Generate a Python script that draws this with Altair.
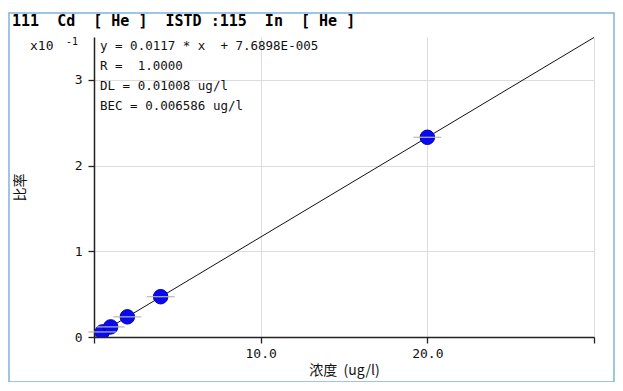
import altair as alt
import pandas as pd

# --- data ---
conc = [0.5, 1.0, 2.0, 4.0, 20.0]            # 浓度 (ug/l)
ratio = [0.059, 0.118, 0.235, 0.47, 2.33]     # 比率 (x10^-1)
x_ticks = [0, 10, 20, 30]
y_ticks = [0, 1, 2, 3]
NB = "\u00a0"
title_text = "111  Cd  [ He ]  ISTD :115  In  [ He ]".replace(" ", NB)
info_lines = [s.replace(" ", NB) for s in [
    "y = 0.0117 * x  + 7.6898E-005",
    "R =  1.0000",
    "DL = 0.01008 ug/l",
    "BEC = 0.006586 ug/l",
]]
x_title = "浓度  (ug/l)".replace(" ", NB)

MONO = "DejaVu Sans Mono, Noto Sans CJK SC"
CJK = "Noto Sans CJK SC"

df = pd.DataFrame({"conc": conc, "ratio": ratio})

W, H = 500, 300

xs = alt.Scale(domain=[0, 30], nice=False, zero=False)
ys = alt.Scale(domain=[0, 3.5], nice=False, zero=False)

base = alt.Chart(df)

X = alt.X("conc:Q", scale=xs,
          axis=alt.Axis(values=x_ticks,
                        labelExpr="datum.value == 0 || datum.value == 30 ? '' : format(datum.value, '.1f')",
                        title=x_title, grid=True))
Y = alt.Y("ratio:Q", scale=ys,
          axis=alt.Axis(values=y_ticks, format="d", title="比率", grid=True))

fit = base.transform_regression("conc", "ratio", extent=[0, 30]).mark_line(
    color="#111111", strokeWidth=1, clip=True
).encode(x=X, y=Y)

pts = base.mark_point(
    shape="circle", filled=True, size=210, color="#0a0af2", stroke="#0000a8",
    strokeWidth=1, opacity=1, clip=True
).encode(x=X, y=Y)

bars = base.mark_tick(
    orient="horizontal", size=28, thickness=1.2, color="#b8b8b8", opacity=1
).encode(x=X, y=Y)

one = pd.DataFrame({"k": [0]})

info = alt.Chart(one).mark_text(
    align="left", baseline="middle", font=MONO, fontSize=12.5, color="#111111",
    text=info_lines, lineHeight=20
).encode(x=alt.value(6), y=alt.value(9))

exp_lbl = alt.Chart(one).mark_text(
    align="left", baseline="middle", font=MONO, fontSize=13, color="#111111", text="x10"
).encode(x=alt.value(-64), y=alt.value(9))
exp_sup = alt.Chart(one).mark_text(
    align="left", baseline="middle", font=MONO, fontSize=10, color="#111111", text="-1"
).encode(x=alt.value(-28), y=alt.value(5))

title = alt.Chart(one).mark_text(
    align="left", baseline="middle", font=MONO, fontSize=15, fontWeight="bold",
    color="#000000", text=title_text
).encode(x=alt.value(-82), y=alt.value(-16))

frame = alt.Chart(one).mark_rect(
    fill=None, stroke="#7fb2d8", strokeWidth=1.5
).encode(x=alt.value(-85), x2=alt.value(520), y=alt.value(-24), y2=alt.value(345))

chart = alt.layer(fit, pts, bars, info, exp_lbl, exp_sup, title, frame).properties(
    width=W, height=H,
    background="#ffffff",
    autosize=alt.AutoSizeParams(type="none"),
    padding={"left": 86, "top": 29, "right": 21, "bottom": 45},
).configure_view(stroke=None).configure_axis(
    domainColor="#222222", domainWidth=1.5, tickColor="#222222", tickWidth=1.3, tickSize=6,
    gridColor="#dcdcdc", gridWidth=1, labelFont=MONO, labelFontSize=13, labelColor="#111111",
    titleFont=CJK, titleFontSize=14, titleFontWeight="normal", titleColor="#111111",
).configure_axisX(labelPadding=4, titlePadding=3, titleBaseline="top").configure_axisY(
    labelPadding=6, titleX=-74, titleY=150, titleBaseline="middle"
)

chart.save("out.html", embed_options={"renderer": "svg", "actions": False})
